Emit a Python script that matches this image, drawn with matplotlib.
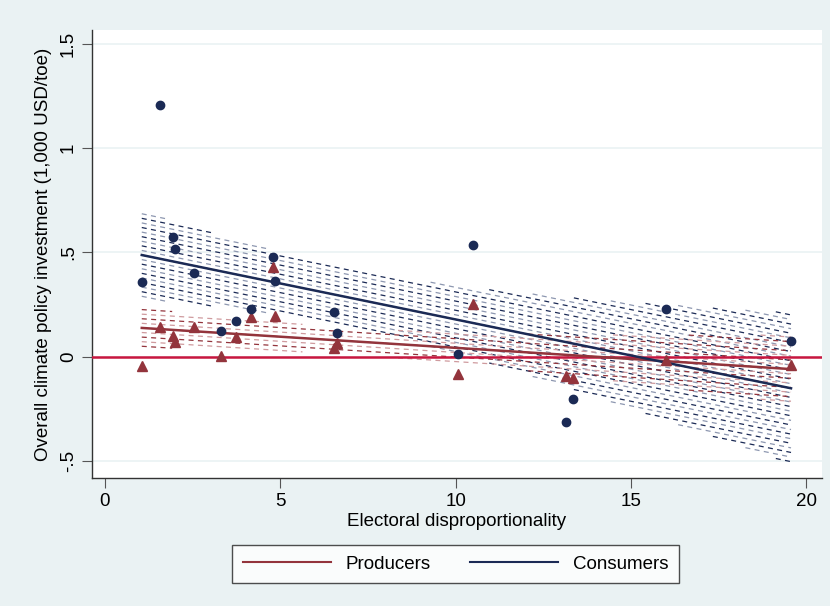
import numpy as np
import matplotlib.pyplot as plt

# electoral disproportionality (same countries for both groups)
disprop = [1.05, 1.58, 1.94, 2.0, 2.54, 3.32, 3.74, 4.16, 4.8, 4.85,
           6.54, 6.62, 10.06, 10.5, 13.14, 13.35, 15.99, 19.56]
# overall climate policy investment (1,000 USD/toe)
consumers = [0.356, 1.207, 0.575, 0.517, 0.401, 0.124, 0.172, 0.227, 0.479, 0.361,
             0.214, 0.111, 0.012, 0.535, -0.313, -0.205, 0.228, 0.076]
producers = [-0.045, 0.143, 0.097, 0.068, 0.142, 0.004, 0.094, 0.192, 0.428, 0.193,
             0.039, 0.063, -0.084, 0.252, -0.092, -0.105, -0.017, -0.042]

x_ticks = [0, 5, 10, 15, 20]
y_ticks = [-0.5, 0, 0.5, 1, 1.5]
y_tick_labels = ['-.5', '0', '.5', '1', '1.5']

bg = '#eaf2f3'
navy = '#1b2a55'
navy_light = '#8d97b0'
maroon = '#93343c'
maroon_light = '#cf9a9e'
zero_red = '#c8163f'

plt.rcParams['font.family'] = ['Liberation Sans', 'DejaVu Sans']

fig = plt.figure(figsize=(8.3, 6.06), dpi=100, facecolor=bg)
ax = fig.add_axes([0.1108, 0.2112, 0.879, 0.7393])
ax.set_facecolor('white')


def fit_ci(x, y, t=2.12):
    x = np.asarray(x)
    y = np.asarray(y)
    b, a = np.polyfit(x, y, 1)
    n = len(x)
    resid = y - (a + b * x)
    s = np.sqrt(np.sum(resid ** 2) / (n - 2))
    sxx = np.sum((x - x.mean()) ** 2)
    xg = np.linspace(x.min(), x.max(), 300)
    yg = a + b * xg
    se = s * np.sqrt(1.0 / n + (xg - x.mean()) ** 2 / sxx)
    return xg, yg, yg - t * se, yg + t * se


def dashed_band(xg, yg, lo, hi, c1, c2, step=0.022):
    # CI band drawn as rows of short dashes, as in the Stata export
    kmax = int(np.max(hi - yg) / step) + 2
    for k in range(-kmax, kmax + 1):
        yk = yg + k * step
        yk = np.where((yk <= hi) & (yk >= lo), yk, np.nan)
        ax.plot(xg, yk, color=c1 if k % 2 == 0 else c2, lw=0.9,
                dashes=(4, 3.5), zorder=2)


xc, yc, loc_, hic = fit_ci(disprop, consumers)
xp, yp, lop, hip = fit_ci(disprop, producers)

dashed_band(xc, yc, loc_, hic, navy, navy_light)
dashed_band(xp, yp, lop, hip, maroon, maroon_light)

ax.axhline(0, color=zero_red, lw=1.8, zorder=3)
ax.plot(xp, yp, color=maroon, lw=1.8, zorder=4)
ax.plot(xc, yc, color=navy, lw=1.8, zorder=4)

ax.plot(disprop, producers, '^', color=maroon, ms=7, mec=maroon, zorder=5)
ax.plot(disprop, consumers, 'o', color=navy, ms=6, mec=navy, zorder=5)

for yt in y_ticks:
    ax.axhline(yt, color=bg, lw=1.2, zorder=1)

ax.set_xlim(-0.37, 20.43)
ax.set_ylim(-0.583, 1.567)
ax.set_xticks(x_ticks)
ax.set_yticks(y_ticks)
ax.set_yticklabels(y_tick_labels, rotation=90, va='center')
for lab in ax.get_yticklabels():
    lab.set_rotation_mode('anchor')
    lab.set_ha('center')
ax.tick_params(axis='both', labelsize=13.5, length=7, color='#555555', direction='out')
ax.tick_params(axis='y', pad=10)
ax.tick_params(axis='x', pad=4)

for side in ['top', 'right']:
    ax.spines[side].set_visible(False)
for side in ['left', 'bottom']:
    ax.spines[side].set_color('#333333')
    ax.spines[side].set_linewidth(1.0)

ax.set_xlabel('Electoral disproportionality', fontsize=13.5, labelpad=2)
ax.set_ylabel('Overall climate policy investment (1,000 USD/toe)', fontsize=13.5, labelpad=6)

h1, = ax.plot([], [], color=maroon, lw=1.5)
h2, = ax.plot([], [], color=navy, lw=1.5)
leg = fig.legend([h1, h2], ['Producers', 'Consumers'], loc='lower center',
                 bbox_to_anchor=(0.549, 0.038), ncol=2, fontsize=13.5,
                 frameon=True, fancybox=False, edgecolor='#222222',
                 handlelength=4.7, columnspacing=2.1, borderpad=0.55,
                 borderaxespad=0)
leg.get_frame().set_linewidth(1.0)

fig.savefig('out.png', dpi=100, facecolor=bg)
